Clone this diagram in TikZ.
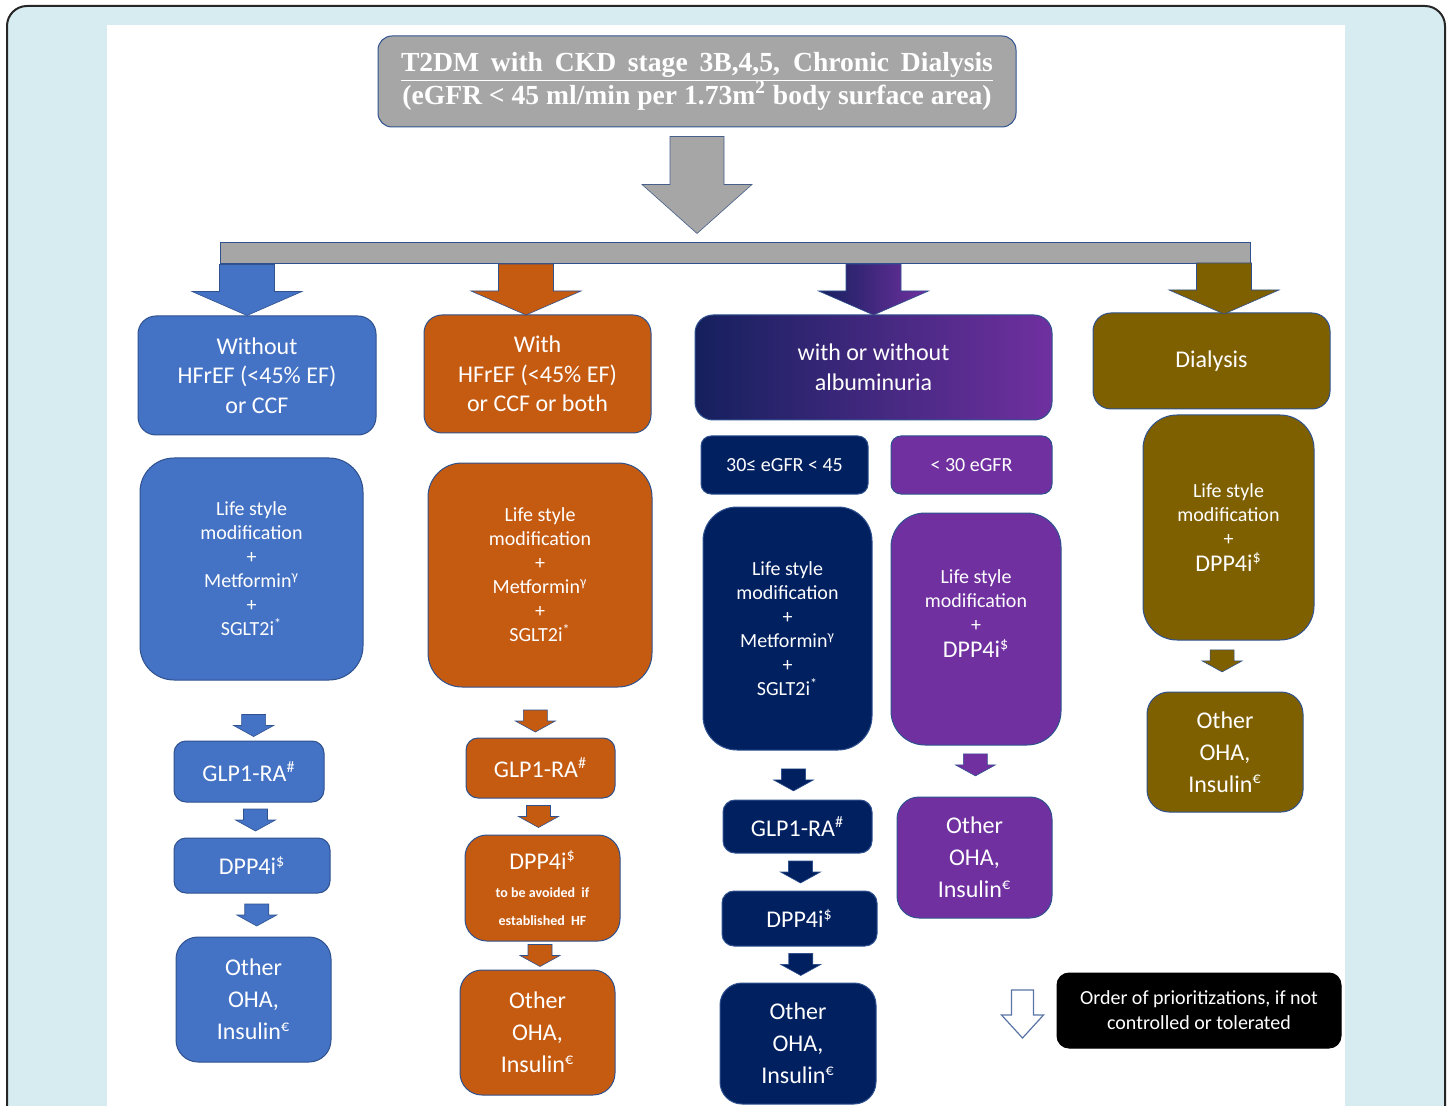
\documentclass[tikz,border=0pt]{standalone}
\usepackage{fontspec}
\setmainfont{Carlito}
\newfontfamily\titlefont{Liberation Serif}
\usepackage{tikz}
\usetikzlibrary{calc}
\definecolor{col_blue}{HTML}{4472C4}
\definecolor{col_orange}{HTML}{C55A11}
\definecolor{col_navy}{HTML}{002060}
\definecolor{col_purple}{HTML}{7030A0}
\definecolor{col_olive}{HTML}{7F6000}
\definecolor{col_grey}{HTML}{A6A6A6}
\definecolor{col_line}{HTML}{2F528F}
\definecolor{col_page}{HTML}{D7ECF1}
\definecolor{col_dark}{HTML}{15205E}
\newcommand{\fsTitle}{\titlefont\bfseries\fontsize{13.8pt}{16pt}\selectfont}
\newcommand{\fsHead}{\fontsize{12pt}{14.75pt}\selectfont}
\newcommand{\fsMain}{\fontsize{10pt}{12pt}\selectfont}
\newcommand{\fsStep}{\fontsize{12pt}{14pt}\selectfont}
\newcommand{\fsEnd}{\fontsize{12pt}{16pt}\selectfont}
\newcommand{\fsNote}{\fontsize{7pt}{14pt}\selectfont\bfseries}
\newcommand{\sups}[1]{\textsuperscript{#1}}
% block arrow: style, centre, length, stem half width, head half width, head length
\newcommand{\blockarrow}[6]{%
  \begin{scope}[shift={#2}]
    \path[#1] (-#4,{-#3/2}) -- (#4,{-#3/2}) -- (#4,{#3/2-#6}) -- (#5,{#3/2-#6})
      -- (0,{#3/2}) -- (-#5,{#3/2-#6}) -- (-#4,{#3/2-#6}) -- cycle;
  \end{scope}}
\tikzset{
    box_size/.style 2 args={minimum width=#1*0.5pt,minimum height=#2*0.5pt},
    base_box/.style={draw=col_line,line width=0.5pt,text=white,align=center,inner sep=0pt},
    title_box/.style={base_box,fill=col_grey,rounded corners=7pt,font=\fsTitle},
    head_box/.style={base_box,rounded corners=9pt,font=\fsHead},
    main_box/.style={base_box,rounded corners=17pt,font=\fsMain},
    sub_box/.style={base_box,rounded corners=5pt,font=\fsMain},
    step_box/.style={base_box,rounded corners=6pt,font=\fsStep},
    end_box/.style={base_box,rounded corners=11pt,font=\fsEnd},
    arrow_small/.style={fill=#1,draw=col_line,line width=0.3pt},
}

\begin{document}
\begin{tikzpicture}[x=0.5pt,y=-0.5pt]
  \useasboundingbox (0,0) rectangle (1449,1106);
  % page
  \draw[fill=col_page,draw=black!85,line width=1pt,rounded corners=10pt] (7,6) rectangle (1445,1140);
  \fill[white] (107,25) rectangle (1345,1106);
  % top
  \node[title_box,box_size={638}{91}] (title) at (697,81.5)
    {\underline{\makebox[296pt][s]{T2DM with CKD stage 3B,4,5, Chronic Dialysis}}\\[-1.5pt]
     (eGFR < 45 ml/min per 1.73m\sups{2} body surface area)};
  \node[draw=col_line,fill=col_grey,line width=0.5pt,inner sep=0pt,box_size={1030}{21}] (bar) at (735,253.5) {};
  \blockarrow{arrow_small=col_grey,draw=col_line!70!gray}{($(title.south)!0.5!(title.south |- bar.north)$)}{97}{27}{55}{49}
  % column A
  \node[head_box,fill=col_blue,box_size={238}{119}] (hA) at (257,375.5) {Without\\HFrEF (<45\% EF)\\or CCF};
  \node[main_box,fill=col_blue,box_size={223}{222}] (mA) at (251.5,569)
    {Life style\\modification\\+\\Metformin\sups{γ}\\+\\SGLT2i\sups{*}};
  \node[step_box,fill=col_blue,box_size={150}{61}] (gA) at (249,771.5) {GLP1-RA\sups{\#}};
  \node[step_box,fill=col_blue,box_size={156}{55}] (dA) at (252,865.5) {DPP4i\sups{\$}};
  \node[end_box,fill=col_blue,box_size={155}{125}] (oA) at (253.5,999.5) {Other\\OHA,\\Insulin\sups{€}};
  % column B
  \node[head_box,fill=col_orange,box_size={227}{118}] (hB) at (537.5,374) {With\\HFrEF (<45\% EF)\\or CCF or both};
  \node[main_box,fill=col_orange,box_size={224}{224}] (mB) at (540,575)
    {Life style\\modification\\+\\Metformin\sups{γ}\\+\\SGLT2i\sups{*}};
  \node[step_box,fill=col_orange,box_size={149}{60}] (gB) at (540.5,768) {GLP1-RA\sups{\#}};
  \node[step_box,fill=col_orange,box_size={155}{106},rounded corners=11pt] (dB) at (542.5,888)
    {DPP4i\sups{\$}\\{\fsNote to be avoided\ \ if}\\{\fsNote established\ \ HF}};
  \node[end_box,fill=col_orange,box_size={155}{125}] (oB) at (537.5,1032.5) {Other\\OHA,\\Insulin\sups{€}};
  % column C
  \node[head_box,left color=col_dark,right color=col_purple,box_size={357}{105}] (hC) at (873.5,367.5)
    {with or without\\albuminuria};
  \node[sub_box,fill=col_navy,box_size={167}{58}] (sC1) at (784.5,465) {30≤ eGFR < 45};
  \node[sub_box,fill=col_purple,box_size={161}{58}] (sC2) at (971.5,465) {< 30 eGFR};
  \node[main_box,fill=col_navy,box_size={169}{243}] (mC1) at (787.5,628.5)
    {Life style\\modification\\+\\Metformin\sups{γ}\\+\\SGLT2i\sups{*}};
  \node[main_box,fill=col_purple,box_size={170}{232}] (mC2) at (976,629)
    {Life style\\modification\\+\\[1pt]{\fsStep DPP4i\sups{\$}}\\[3pt]~};
  \node[step_box,fill=col_navy,box_size={149}{53}] (gC) at (797.5,826.5) {GLP1-RA\sups{\#}};
  \node[step_box,fill=col_navy,box_size={155}{55}] (dC) at (799.5,918.5) {DPP4i\sups{\$}};
  \node[end_box,fill=col_navy,box_size={156}{121}] (oC1) at (798,1043.5) {Other\\OHA,\\Insulin\sups{€}};
  \node[end_box,fill=col_purple,box_size={155}{121}] (oC2) at (974.5,857.5) {Other\\OHA,\\Insulin\sups{€}};
  % column D
  \node[head_box,fill=col_olive,box_size={237}{96}] (hD) at (1211.5,361) {Dialysis};
  \node[main_box,fill=col_olive,box_size={171}{225}] (mD) at (1228.5,527.5)
    {Life style\\modification\\+\\[1pt]{\fsStep DPP4i\sups{\$}}};
  \node[end_box,fill=col_olive,box_size={156}{120}] (oD) at (1225,752) {Other\\OHA,\\Insulin\sups{€}};
  % arrows from the bar
  \blockarrow{arrow_small=col_blue}{($(bar.south -| hA.north)!0.5!(hA.north)+(-10,0)$)}{51}{27.5}{55}{24}
  \blockarrow{arrow_small=col_orange}{($(bar.south -| hB.north)!0.5!(hB.north)+(-11.5,0)$)}{51}{27.5}{55}{24}
  \blockarrow{left color=col_dark,right color=col_purple,draw=col_line,line width=0.3pt}{($(bar.south -| hC.north)!0.5!(hC.north)$)}{51}{27.5}{55}{24}
  \blockarrow{arrow_small=col_olive}{($(bar.south -| hD.north)!0.5!(hD.north)+(12.5,0)$)}{51}{27.5}{55}{24}
  % arrows between steps
  \blockarrow{arrow_small=col_blue}{($(mA.south)!0.75!(gA.north)+(4,0)$)}{22}{12}{20}{11}
  \blockarrow{arrow_small=col_blue}{($(gA.south)!0.5!(dA.north)+(5,0)$)}{22}{12}{20}{11}
  \blockarrow{arrow_small=col_blue}{($(dA.south)!0.5!(oA.north)+(4,0)$)}{22}{12}{20}{11}
  \blockarrow{arrow_small=col_orange}{($(mB.south)!0.67!(gB.north)+(-5,0)$)}{22}{12}{20}{11}
  \blockarrow{arrow_small=col_orange}{($(gB.south)!0.5!(dB.north)+(-3,0)$)}{22}{12}{20}{11}
  \blockarrow{arrow_small=col_orange}{($(dB.south)!0.5!(oB.north)$)}{22}{12}{20}{11}
  \blockarrow{arrow_small=col_navy}{($(mC1.south)!0.6!(gC.north)$)}{22}{12}{20}{11}
  \blockarrow{arrow_small=col_navy}{($(gC.south)!0.5!(dC.north)+(2,0)$)}{22}{12}{20}{11}
  \blockarrow{arrow_small=col_navy}{($(dC.south)!0.5!(oC1.north)+(2,0)$)}{22}{12}{20}{11}
  \blockarrow{arrow_small=col_purple}{($(mC2.south)!0.38!(oC2.north)$)}{22}{12}{20}{11}
  \blockarrow{arrow_small=col_olive}{($(mD.south)!0.4!(oD.north)+(-5,0)$)}{22}{12}{20}{11}
  % legend
  \node[base_box,fill=black,draw=black,rounded corners=6pt,font=\fontsize{10pt}{12.5pt}\selectfont,box_size={284}{75}] (legend) at (1199,1010.5)
    {Order of prioritizations, if not\\controlled or tolerated};
  \coordinate (leg_arrow) at ($(legend.west)+(-34,3.5)$);
  \blockarrow{fill=white,draw=col_line!80!white,line width=0.6pt}{(leg_arrow)}{48}{11}{21}{23}
\end{tikzpicture}
\end{document}
